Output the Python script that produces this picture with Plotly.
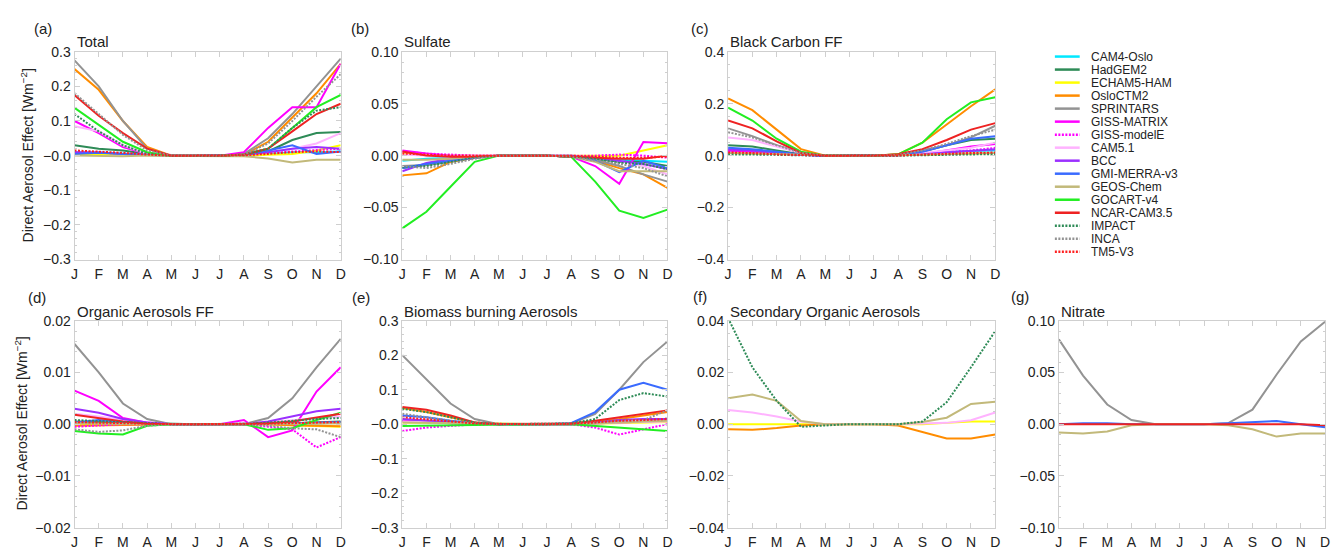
import plotly.graph_objects as go

W, H = 1335, 556

MONTHS = ["J", "F", "M", "A", "M", "J", "J", "A", "S", "O", "N", "D"]
MONTH_IDX = list(range(12))

MODELS = ["CAM4-Oslo", "HadGEM2", "ECHAM5-HAM", "OsloCTM2", "SPRINTARS", "GISS-MATRIX",
          "GISS-modelE", "CAM5.1", "BCC", "GMI-MERRA-v3", "GEOS-Chem", "GOCART-v4",
          "NCAR-CAM3.5", "IMPACT", "INCA", "TM5-V3"]
COLORS = ["#00E8FF", "#2E8B57", "#FFFF00", "#FF8C00", "#939393", "#FF00FF",
          "#FF00FF", "#FFB3FF", "#9B30FF", "#3A6BFF", "#C2B97A", "#22EE22",
          "#EE2222", "#2E8B57", "#939393", "#FF2020"]
DOT = "2px,1.5px"
DASHES = ["solid", "solid", "solid", "solid", "solid", "solid",
          DOT, "solid", "solid", "solid", "solid", "solid",
          "solid", DOT, DOT, DOT]

TOTAL = {
    "CAM4-Oslo":    [0.01, 0.008, 0.005, 0.002, 0, 0, 0, 0.001, 0.005, 0.01, 0.01, 0.012],
    "HadGEM2":      [0.03, 0.02, 0.015, 0.005, 0, 0, 0, 0.002, 0.012, 0.045, 0.065, 0.068],
    "ECHAM5-HAM":   [0.005, 0.004, 0.003, 0.001, 0, 0, 0, 0, 0.002, 0.005, 0.015, 0.03],
    "OsloCTM2":     [0.25, 0.19, 0.1, 0.025, 0, 0, 0, 0.002, 0.04, 0.11, 0.18, 0.265],
    "SPRINTARS":    [0.275, 0.2, 0.1, 0.02, 0, 0, 0, 0.005, 0.05, 0.12, 0.2, 0.28],
    "GISS-MATRIX":  [0.1, 0.065, 0.025, 0.005, 0, 0, 0, 0.01, 0.08, 0.14, 0.14, 0.265],
    "GISS-modelE":  [0.01, 0.008, 0.005, 0.002, 0, 0, 0, 0.002, 0.008, 0.012, 0.015, 0.02],
    "CAM5.1":       [0.085, 0.07, 0.03, 0.005, 0, 0, 0, 0.002, 0.01, 0.02, 0.035, 0.065],
    "BCC":          [0.01, 0.01, 0.005, 0.002, 0, 0, 0, 0.002, 0.01, 0.02, 0.025, 0.02],
    "GMI-MERRA-v3": [0.005, 0.008, 0.005, 0.002, 0, 0, 0, 0.002, 0.015, 0.03, 0.005, 0.012],
    "GEOS-Chem":    [0, -0.002, -0.002, 0, 0, 0, 0, -0.002, -0.008, -0.02, -0.012, -0.012],
    "GOCART-v4":    [0.138, 0.09, 0.04, 0.01, 0, 0, 0, 0.003, 0.02, 0.08, 0.14, 0.175],
    "NCAR-CAM3.5":  [0.175, 0.115, 0.065, 0.02, 0, 0, 0, 0.003, 0.02, 0.07, 0.12, 0.15],
    "IMPACT":       [0.12, 0.07, 0.03, 0.005, 0, 0, 0, 0.003, 0.02, 0.08, 0.13, 0.14],
    "INCA":         [0.18, 0.12, 0.06, 0.015, 0, 0, 0, 0.003, 0.035, 0.1, 0.17, 0.235],
    "TM5-V3":       [0.015, 0.012, 0.008, 0.003, 0, 0, 0, 0.001, 0.005, 0.01, 0.012, 0.01],
}

SULFATE = {
    "CAM4-Oslo":    [-0.005, -0.003, -0.002, -0.001, 0, 0, 0, 0, -0.002, -0.004, -0.005, -0.006],
    "HadGEM2":      [-0.012, -0.009, -0.006, -0.002, 0, 0, 0, -0.001, -0.003, -0.006, -0.006, -0.01],
    "ECHAM5-HAM":   [0.002, 0.001, 0, 0, 0, 0, 0, 0, 0, 0, 0.005, 0.01],
    "OsloCTM2":     [-0.019, -0.017, -0.006, -0.002, 0, 0, 0, -0.001, -0.005, -0.012, -0.018, -0.031],
    "SPRINTARS":    [-0.01, -0.009, -0.005, -0.002, 0, 0, 0, -0.001, -0.004, -0.01, -0.018, -0.025],
    "GISS-MATRIX":  [0.005, 0.002, 0, 0, 0, 0, 0, -0.001, -0.01, -0.027, 0.013, 0.012],
    "GISS-modelE":  [0.004, 0.002, 0.001, 0, 0, 0, 0, 0, 0, 0.001, 0, -0.002],
    "CAM5.1":       [0.001, 0, -0.001, 0, 0, 0, 0, 0, -0.002, -0.005, -0.01, -0.018],
    "BCC":          [-0.015, -0.007, -0.003, -0.001, 0, 0, 0, 0, -0.002, -0.005, -0.008, -0.013],
    "GMI-MERRA-v3": [-0.012, -0.008, -0.005, -0.002, 0, 0, 0, -0.001, -0.005, -0.016, -0.005, -0.012],
    "GEOS-Chem":    [-0.004, -0.004, -0.003, -0.001, 0, 0, 0, -0.001, -0.006, -0.015, -0.015, -0.015],
    "GOCART-v4":    [-0.07, -0.054, -0.03, -0.006, 0, 0, 0, -0.001, -0.025, -0.053, -0.06, -0.052],
    "NCAR-CAM3.5":  [0.004, 0, -0.001, -0.001, 0, 0, 0, -0.001, -0.002, -0.003, -0.003, 0],
    "IMPACT":       [-0.011, -0.01, -0.006, -0.002, 0, 0, 0, -0.001, -0.003, -0.007, -0.008, -0.013],
    "INCA":         [-0.01, -0.012, -0.008, -0.003, 0, 0, 0, -0.001, -0.005, -0.008, -0.012, -0.02],
    "TM5-V3":       [0.002, 0.001, 0, 0, 0, 0, 0, 0, -0.001, -0.002, -0.002, -0.001],
}

BC_FF = {
    "CAM4-Oslo":    [0.02, 0.018, 0.01, 0.003, 0, 0, 0, 0.001, 0.008, 0.015, 0.018, 0.02],
    "HadGEM2":      [0.04, 0.035, 0.02, 0.005, 0, 0, 0, 0.002, 0.015, 0.04, 0.06, 0.065],
    "ECHAM5-HAM":   [0.01, 0.008, 0.005, 0.002, 0, 0, 0, 0.001, 0.003, 0.006, 0.008, 0.01],
    "OsloCTM2":     [0.22, 0.175, 0.1, 0.025, 0, 0, 0, 0.005, 0.05, 0.12, 0.19, 0.255],
    "SPRINTARS":    [0.105, 0.075, 0.04, 0.01, 0, 0, 0, 0.003, 0.02, 0.04, 0.07, 0.115],
    "GISS-MATRIX":  [0.02, 0.015, 0.008, 0.002, 0, 0, 0, 0.001, 0.005, 0.02, 0.035, 0.045],
    "GISS-modelE":  [0.015, 0.012, 0.006, 0.002, 0, 0, 0, 0.001, 0.004, 0.015, 0.02, 0.03],
    "CAM5.1":       [0.07, 0.06, 0.035, 0.01, 0, 0, 0, 0.002, 0.01, 0.02, 0.03, 0.05],
    "BCC":          [0.025, 0.02, 0.01, 0.003, 0, 0, 0, 0.001, 0.005, 0.012, 0.02, 0.025],
    "GMI-MERRA-v3": [0.03, 0.025, 0.015, 0.004, 0, 0, 0, 0.002, 0.015, 0.04, 0.065, 0.075],
    "GEOS-Chem":    [0.01, 0.008, 0.005, 0.002, 0, 0, 0, 0.001, 0.003, 0.005, 0.008, 0.01],
    "GOCART-v4":    [0.185, 0.135, 0.065, 0.015, 0, 0, 0, 0.005, 0.05, 0.14, 0.205, 0.225],
    "NCAR-CAM3.5":  [0.135, 0.105, 0.055, 0.01, 0, 0, 0, 0.005, 0.025, 0.06, 0.1, 0.125],
    "IMPACT":       [0.005, 0.005, 0.003, 0.001, 0, 0, 0, 0, 0.002, 0.004, 0.005, 0.006],
    "INCA":         [0.09, 0.07, 0.04, 0.01, 0, 0, 0, 0.003, 0.02, 0.045, 0.075, 0.1],
    "TM5-V3":       [0.012, 0.01, 0.005, 0.002, 0, 0, 0, 0.001, 0.004, 0.008, 0.01, 0.012],
}

OA_FF = {
    "CAM4-Oslo":    [0.0003, 0.0002, 0.0001, 0, 0, 0, 0, 0, 0, 0.0001, 0.0002, 0.0003],
    "HadGEM2":      [0.0005, 0.0004, 0.0002, 0.0001, 0, 0, 0, 0, 0.0001, 0.0002, 0.0004, 0.0005],
    "ECHAM5-HAM":   [-0.0002, -0.0002, -0.0001, 0, 0, 0, 0, 0, 0, -0.0002, -0.0004, -0.0005],
    "OsloCTM2":     [-0.0003, -0.0002, -0.0001, 0, 0, 0, 0, 0, 0, -0.0002, -0.0003, -0.0004],
    "SPRINTARS":    [0.0155, 0.01, 0.004, 0.001, 0, 0, 0, 0, 0.0012, 0.005, 0.011, 0.0165],
    "GISS-MATRIX":  [0.0065, 0.0045, 0.0012, 0.0003, 0, 0, 0, 0.0008, -0.0025, -0.0012, 0.0063, 0.011],
    "GISS-modelE":  [-0.0005, -0.0003, 0, 0, 0, 0, 0, 0, -0.0005, -0.001, -0.0045, -0.0025],
    "CAM5.1":       [0.002, 0.0015, 0.0008, 0.0002, 0, 0, 0, 0, 0.0003, 0.0008, 0.0012, 0.0015],
    "BCC":          [0.003, 0.0022, 0.001, 0.0003, 0, 0, 0, 0, 0.0005, 0.0015, 0.0025, 0.003],
    "GMI-MERRA-v3": [0.0003, 0.0008, 0.0004, 0.0001, 0, 0, 0, 0, 0.0001, 0.0002, 0.0003, 0.0004],
    "GEOS-Chem":    [0.0002, 0.0001, 0, 0, 0, 0, 0, 0, 0, 0.0001, 0.0001, 0.0002],
    "GOCART-v4":    [-0.0013, -0.0018, -0.002, -0.0003, 0, 0, 0, 0, -0.0011, -0.0008, 0.0008, 0.0022],
    "NCAR-CAM3.5":  [0.0018, 0.0012, 0.0005, 0.0001, 0, 0, 0, 0, 0.0002, 0.0005, 0.0013, 0.002],
    "IMPACT":       [0.0008, 0.0006, 0.0003, 0.0001, 0, 0, 0, 0, 0.0003, 0.0007, 0.001, 0.0012],
    "INCA":         [-0.001, -0.0015, -0.0012, -0.0003, 0, 0, 0, 0, -0.0003, -0.0008, -0.001, -0.0025],
    "TM5-V3":       [0.0004, 0.0003, 0.0001, 0, 0, 0, 0, 0, 0.0001, 0.0002, 0.0003, 0.0004],
}

BIOMASS = {
    "CAM4-Oslo":    [0.01, 0.008, 0.004, 0.001, 0, 0, 0, 0, 0.003, 0.006, 0.008, 0.01],
    "HadGEM2":      [0.01, 0.008, 0.004, 0.001, 0, 0, 0, 0, 0.003, 0.006, 0.006, 0.008],
    "ECHAM5-HAM":   [0.005, 0.004, 0.002, 0.001, 0, 0, 0, 0, 0.002, 0.004, 0.005, 0.006],
    "OsloCTM2":     [0.047, 0.035, 0.02, 0.005, 0, 0, 0, 0.001, 0.008, 0.015, 0.025, 0.035],
    "SPRINTARS":    [0.2, 0.13, 0.06, 0.015, 0, 0, 0, 0.002, 0.03, 0.1, 0.18, 0.24],
    "GISS-MATRIX":  [0.01, 0.006, 0.003, 0.001, 0, 0, 0, 0, 0.002, 0.005, 0.008, 0.01],
    "GISS-modelE":  [-0.02, -0.01, -0.005, -0.001, 0, 0, 0, 0, -0.01, -0.03, -0.015, 0],
    "CAM5.1":       [0.008, 0.006, 0.003, 0.001, 0, 0, 0, 0, 0.002, 0.005, 0.006, 0.008],
    "BCC":          [0.015, 0.01, 0.005, 0.002, 0, 0, 0, 0, 0.005, 0.012, 0.015, 0.015],
    "GMI-MERRA-v3": [0.025, 0.02, 0.01, 0.003, 0, 0, 0, 0.003, 0.035, 0.1, 0.12, 0.1],
    "GEOS-Chem":    [0.005, 0.004, 0.002, 0.001, 0, 0, 0, 0, 0.003, 0.006, 0.008, 0.01],
    "GOCART-v4":    [-0.005, -0.004, -0.003, -0.001, 0, 0, 0, 0, -0.005, -0.01, -0.013, -0.02],
    "NCAR-CAM3.5":  [0.05, 0.042, 0.025, 0.005, 0, 0, 0, 0.002, 0.01, 0.02, 0.03, 0.04],
    "IMPACT":       [0.045, 0.035, 0.02, 0.005, 0, 0, 0, 0.002, 0.015, 0.07, 0.09, 0.08],
    "INCA":         [0.03, 0.02, 0.01, 0.003, 0, 0, 0, 0.001, 0.005, 0.01, 0.012, 0.04],
    "TM5-V3":       [0.02, 0.015, 0.008, 0.002, 0, 0, 0, 0.001, 0.005, 0.01, 0.012, 0.015],
}

SOA = {
    "ECHAM5-HAM":   [0, 0, 0, 0, 0, 0, 0, 0, 0, 0.0005, 0.001, 0.001],
    "OsloCTM2":     [-0.002, -0.0022, -0.0015, -0.0005, 0, 0, 0, -0.0005, -0.003, -0.0055, -0.0055, -0.004],
    "CAM5.1":       [0.0055, 0.0045, 0.003, 0.001, 0, 0, 0, 0, 0.0003, 0.0005, 0.0015, 0.0045],
    "GEOS-Chem":    [0.01, 0.0115, 0.009, 0.0012, 0, 0, 0, 0, 0.0008, 0.0025, 0.0078, 0.0087],
    "IMPACT":       [0.041, 0.022, 0.009, -0.001, -0.0005, 0, 0, 0, 0.001, 0.0085, 0.022, 0.036],
}

NITRATE = {
    "SPRINTARS":    [0.082, 0.047, 0.019, 0.004, 0, 0, 0, 0.001, 0.014, 0.048, 0.08, 0.099],
    "GMI-MERRA-v3": [0, 0.001, 0.001, 0, 0, 0, 0, 0.001, 0.002, 0.003, 0, -0.003],
    "GEOS-Chem":    [-0.008, -0.009, -0.007, -0.001, 0, 0, 0, -0.001, -0.005, -0.012, -0.009, -0.009],
    "NCAR-CAM3.5":  [0, 0, 0, 0, 0, 0, 0, 0, 0, 0, 0, -0.001],
}

PANEL_TITLES = ["Total", "Sulfate", "Black Carbon FF", "Organic Aerosols FF",
                "Biomass burning Aerosols", "Secondary Organic Aerosols", "Nitrate"]
PANEL_LETTERS = ["(a)", "(b)", "(c)", "(d)", "(e)", "(f)", "(g)"]
PANEL_DATA = [TOTAL, SULFATE, BC_FF, OA_FF, BIOMASS, SOA, NITRATE]
Y_TICKVALS = [
    [-0.3, -0.2, -0.1, 0, 0.1, 0.2, 0.3],
    [-0.1, -0.05, 0, 0.05, 0.1],
    [-0.4, -0.2, 0, 0.2, 0.4],
    [-0.02, -0.01, 0, 0.01, 0.02],
    [-0.3, -0.2, -0.1, 0, 0.1, 0.2, 0.3],
    [-0.04, -0.02, 0, 0.02, 0.04],
    [-0.1, -0.05, 0, 0.05, 0.1],
]
Y_TICKTEXT = [
    ["\u22120.3", "\u22120.2", "\u22120.1", "\u22120.0", "0.1", "0.2", "0.3"],
    ["\u22120.10", "\u22120.05", "0.00", "0.05", "0.10"],
    ["\u22120.4", "\u22120.2", "0.0", "0.2", "0.4"],
    ["\u22120.02", "\u22120.01", "0.00", "0.01", "0.02"],
    ["\u22120.3", "\u22120.2", "\u22120.1", "\u22120.0", "0.1", "0.2", "0.3"],
    ["\u22120.04", "\u22120.02", "0.00", "0.02", "0.04"],
    ["\u22120.10", "\u22120.05", "0.00", "0.05", "0.10"],
]
Y_MINOR = [0.02, 0.01, 0.05, 0.002, 0.02, 0.005, 0.01]

# layout geometry (pixels)
COLS = [(71, 339), (401, 668), (729, 998), (1062, 1330)]
ROWS = [(45, 259), (322, 535)]
PANEL_POS = [(0, 0), (0, 1), (0, 2), (1, 0), (1, 1), (1, 2), (1, 3)]
LETTER_POS = [(28, 21), (347, 21), (690, 21), (22, 298), (348, 298), (692, 297), (1012, 297)]

FONT = "Liberation Sans, Arial, Helvetica, sans-serif"
FRAME = "#cfcfcf"


def px(x):
    return x / W


def py(y):
    return 1 - y / H


fig = go.Figure()
layout = {}
annotations = []
shapes = []

for i, data in enumerate(PANEL_DATA):
    n = i + 1
    xa = "x" if n == 1 else f"x{n}"
    ya = "y" if n == 1 else f"y{n}"
    r, c = PANEL_POS[i]
    x0, x1 = COLS[c]
    y0, y1 = ROWS[r]
    for m, col, dash in zip(MODELS, COLORS, DASHES):
        if m not in data:
            continue
        fig.add_trace(go.Scatter(
            x=MONTH_IDX, y=data[m], mode="lines", name=m,
            line=dict(color=col, width=2, dash=dash),
            xaxis=xa, yaxis=ya, showlegend=False, hoverinfo="skip"))
    layout["xaxis" if n == 1 else f"xaxis{n}"] = dict(
        domain=[px(x0), px(x1)], anchor=ya, range=[0, 11],
        tickmode="array", tickvals=MONTH_IDX, ticktext=MONTHS,
        ticks="inside", ticklen=5, tickcolor=FRAME, showline=True, linecolor=FRAME,
        linewidth=1, mirror="ticks", showgrid=False, zeroline=False,
        ticklabelstandoff=2,
        tickfont=dict(family=FONT, size=14, color="#222"), fixedrange=True)
    tv = Y_TICKVALS[i]
    layout["yaxis" if n == 1 else f"yaxis{n}"] = dict(
        domain=[py(y1), py(y0)], anchor=xa, range=[tv[0], tv[-1]],
        tickmode="array", tickvals=tv, ticktext=Y_TICKTEXT[i],
        ticks="inside", ticklen=5, tickcolor=FRAME, showline=True, linecolor=FRAME,
        linewidth=1, mirror="ticks", showgrid=False, zeroline=False,
        minor=dict(ticks="inside", ticklen=2, tickcolor=FRAME, dtick=Y_MINOR[i], showgrid=False),
        tickfont=dict(family=FONT, size=14, color="#222"), fixedrange=True)
    annotations.append(dict(
        text=PANEL_TITLES[i], x=px(x0), y=py(y0 - 10), xref="paper", yref="paper",
        xanchor="left", yanchor="middle", showarrow=False,
        font=dict(family=FONT, size=15, color="#222")))
    lx, ly = LETTER_POS[i]
    annotations.append(dict(
        text=PANEL_LETTERS[i], x=px(lx), y=py(ly), xref="paper", yref="paper",
        xanchor="left", yanchor="middle", showarrow=False,
        font=dict(family=FONT, size=15, color="#222")))

# y-axis titles
for (tx, ty) in [(23, 152), (17, 428)]:
    annotations.append(dict(
        text="Direct Aerosol Effect [Wm<sup>\u22122</sup>]", x=px(tx), y=py(ty),
        xref="paper", yref="paper", xanchor="center", yanchor="middle",
        textangle=-90, showarrow=False, font=dict(family=FONT, size=14, color="#222")))

# legend (manual, to match the tight row spacing)
LEG_TOP, LEG_STEP = 50, 13.4
for k, (m, col, dash) in enumerate(zip(MODELS, COLORS, DASHES)):
    yy = LEG_TOP + k * LEG_STEP
    shapes.append(dict(type="line", xref="paper", yref="paper",
                       x0=px(1058), x1=px(1083), y0=py(yy), y1=py(yy),
                       line=dict(color=col, width=2.5, dash=dash)))
    annotations.append(dict(
        text=m, x=px(1092), y=py(yy), xref="paper", yref="paper",
        xanchor="left", yanchor="middle", showarrow=False,
        font=dict(family=FONT, size=12, color="#222")))

fig.update_layout(
    width=W, height=H, margin=dict(l=0, r=0, t=0, b=0),
    paper_bgcolor="white", plot_bgcolor="white",
    annotations=annotations, shapes=shapes, showlegend=False, **layout)

fig.write_html("out.html", config={"displayModeBar": False})
